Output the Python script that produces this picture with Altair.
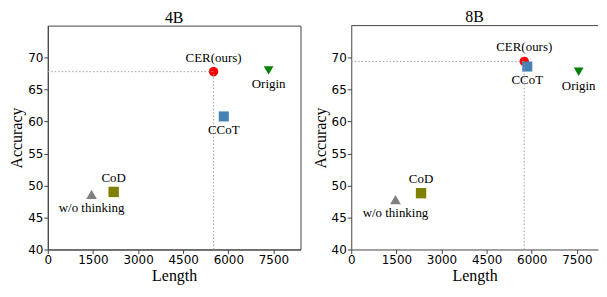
import altair as alt
import pandas as pd

methods = ["CER(ours)", "Origin", "CCoT", "CoD", "w/o thinking"]
len_4b = [5510, 7340, 5850, 2190, 1455]
acc_4b = [67.8, 68.0, 60.8, 49.0, 48.6]
len_8b = [5750, 7560, 5850, 2320, 1470]
acc_8b = [69.4, 67.8, 68.6, 48.8, 47.8]
colors = ["#ff0000", "#008000", "#4682b4", "#808000", "#808080"]
shapes = ["circle", "triangle-down", "square", "square", "triangle-up"]
sizes = [90, 115, 70, 70, 120]
above = ["CER(ours)", "CoD"]
panels = ["4B", "8B"]
x_ticks = [0, 1500, 3000, 4500, 6000, 7500]
y_ticks = [40, 45, 50, 55, 60, 65, 70]

SERIF = "Liberation Serif"
SANS = "DejaVu Sans"
FRAME = "#444444"
PX_PER_UNIT = 254 / 8400


def panel(name, xs, ys, width, open_right=False):
    xmax = round(width / PX_PER_UNIT)
    df = pd.DataFrame({"method": methods, "length": xs, "acc": ys})
    df["pos"] = ["above" if m in above else "below" for m in methods]
    xscale = alt.Scale(domain=[0, xmax], nice=False)
    yscale = alt.Scale(domain=[40, 75], nice=False, zero=False)
    xaxis = alt.Axis(values=x_ticks, title="Length", grid=False, format="d",
                     labelOverlap=False, labelFlush=False)
    yaxis = alt.Axis(values=y_ticks, title="Accuracy", grid=False,
                     labelOverlap=False, labelFlush=False)

    def X(f):
        return alt.X(f, scale=xscale, axis=xaxis)

    def Y(f):
        return alt.Y(f, scale=yscale, axis=yaxis)

    base = alt.Chart(df)
    cer = base.transform_filter(alt.datum.method == methods[0]).transform_calculate(
        x0="0", y0="40")
    hline = cer.mark_rule(color="#a0a0a0", strokeDash=[1.5, 2], strokeWidth=1).encode(
        x=X("x0:Q"), x2="length", y=Y("acc:Q"))
    vline = cer.mark_rule(color="#a0a0a0", strokeDash=[1.5, 2], strokeWidth=1).encode(
        x=X("length:Q"), y=Y("y0:Q"), y2="acc")
    pts = base.mark_point(filled=True, opacity=1).encode(
        x=X("length:Q"), y=Y("acc:Q"),
        color=alt.Color("method:N", scale=alt.Scale(domain=methods, range=colors), legend=None),
        shape=alt.Shape("method:N", scale=alt.Scale(domain=methods, range=shapes), legend=None),
        size=alt.Size("method:N", scale=alt.Scale(domain=methods, range=sizes), legend=None),
    )
    t_above = base.transform_filter(alt.datum.pos == "above").mark_text(
        font=SERIF, fontSize=13, dy=-14, baseline="middle", color="black").encode(
        x=X("length:Q"), y=Y("acc:Q"), text="method:N")
    t_below = base.transform_filter(alt.datum.pos == "below").mark_text(
        font=SERIF, fontSize=13, dy=14, baseline="middle", color="black").encode(
        x=X("length:Q"), y=Y("acc:Q"), text="method:N")
    layers = [pts, hline, vline, t_above, t_below]
    props = dict(
        width=width, height=225,
        title=alt.TitleParams(name, font=SERIF, fontSize=16, fontWeight="normal", offset=0),
    )
    if open_right:
        top = base.transform_filter(alt.datum.method == methods[0]).transform_calculate(
            xa="0", xb=str(xmax), yt="75").mark_rule(color=FRAME, strokeWidth=1).encode(
            x=X("xa:Q"), x2="xb", y=Y("yt:Q"))
        layers.append(top)
        props["view"] = alt.ViewBackground(stroke="transparent")
    return alt.layer(*layers).properties(**props)


chart = alt.hconcat(
    panel(panels[0], len_4b, acc_4b, 254),
    panel(panels[1], len_8b, acc_8b, 248, open_right=True),
    spacing=10,
).properties(padding={"left": 0, "top": 0, "right": 0, "bottom": 0}).configure_view(
    stroke=FRAME, strokeWidth=1
).configure_axis(
    labelFont=SANS, labelFontSize=12, labelColor="black",
    titleFont=SERIF, titleFontSize=16, titleFontWeight="normal", titleColor="black",
    domainColor=FRAME, tickColor=FRAME, tickSize=4, labelPadding=1,
    titlePadding=2,
).configure_axisY(titlePadding=3)

chart.save("out.html", embed_options={"renderer": "svg", "actions": False})
